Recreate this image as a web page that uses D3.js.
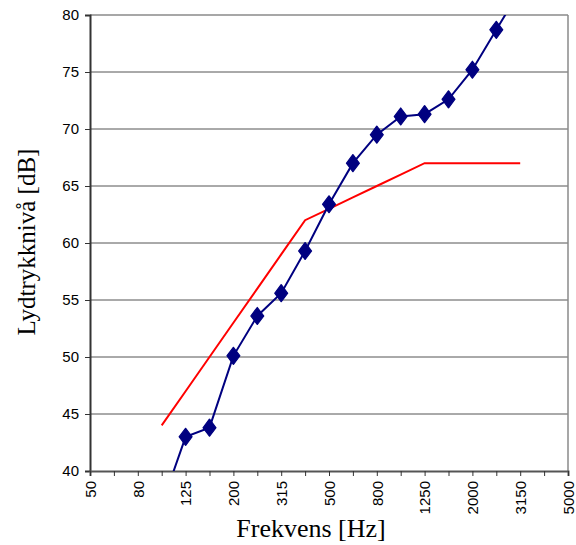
<!DOCTYPE html>
<html>
<head>
<meta charset="utf-8">
<script src="https://cdn.jsdelivr.net/npm/d3@7"></script>
<style>
  html, body { margin: 0; padding: 0; background: #fff; }
  svg { display: block; }
</style>
</head>
<body>
<svg id="chart" width="576" height="545"></svg>
<script>
const frequencies = ["50","63","80","100","125","160","200","250","315","400","500","630","800","1000","1250","1600","2000","2500","3150","4000","5000"];
const tickLabels = ["50","80","125","200","315","500","800","1250","2000","3150","5000"];
const measuredFreqs = ["100","125","160","200","250","315","400","500","630","800","1000","1250","1600","2000","2500","3150"];
const measuredValues = [37.0,43.0,43.8,50.1,53.6,55.6,59.3,63.4,67.0,69.5,71.1,71.3,72.6,75.2,78.7,82.2];
const referenceFreqs = ["100","125","160","200","250","315","400","500","630","800","1000","1250","1600","2000","2500","3150"];
const referenceValues = [44,47,50,53,56,59,62,63,64,65,66,67,67,67,67,67];
const yTicks = [40,45,50,55,60,65,70,75,80];

const svg = d3.select("#chart");
const m = {left: 90, right: 568, top: 15, bottom: 471};

const x = d3.scalePoint().domain(frequencies).range([m.left, m.right]);
const y = d3.scaleLinear().domain([40, 80]).range([m.bottom, m.top]);

svg.append("defs").append("clipPath").attr("id", "clip")
  .append("rect").attr("x", m.left).attr("y", m.top)
  .attr("width", m.right - m.left).attr("height", m.bottom - m.top);

// gridlines
svg.append("g").selectAll("line").data(yTicks.filter(d => d > 40)).join("line")
  .attr("x1", m.left).attr("x2", m.right)
  .attr("y1", d => y(d)).attr("y2", d => y(d))
  .attr("stroke", d => d === 80 ? "#8a8a8a" : "#555").attr("stroke-width", d => d === 80 ? 1.5 : 1);

// right border
svg.append("line").attr("x1", m.right).attr("x2", m.right).attr("y1", m.top).attr("y2", m.bottom)
  .attr("stroke", "#8a8a8a").attr("stroke-width", 1.5);

// y axis
const yAxis = d3.axisLeft(y).tickValues(yTicks).tickSize(5).tickPadding(6);
const gy = svg.append("g").attr("transform", `translate(${m.left},0)`).call(yAxis);
gy.select(".domain").attr("stroke", "#333").attr("stroke-width", 2);
gy.selectAll(".tick line").attr("stroke", "#333");
gy.selectAll("text").attr("font-family", "Liberation Sans, Arial, sans-serif").attr("font-size", 15).attr("fill", "#000");

// x axis
const xAxis = d3.axisBottom(x).tickSize(5).tickPadding(10)
  .tickFormat(d => tickLabels.includes(d) ? d : "");
const gx = svg.append("g").attr("transform", `translate(0,${m.bottom})`).call(xAxis);
gx.select(".domain").attr("stroke", "#555").attr("stroke-width", 2);
gx.selectAll(".tick line").attr("stroke", "#333");
gx.selectAll("text")
  .attr("font-family", "Liberation Sans, Arial, sans-serif").attr("font-size", 15).attr("fill", "#000")
  .attr("transform", "rotate(-90)")
  .attr("text-anchor", "end")
  .attr("dy", "0.35em")
  .attr("x", -10).attr("y", 0);

const plot = svg.append("g").attr("clip-path", "url(#clip)");

const line = d3.line().x(d => x(d[0])).y(d => y(d[1]));

const refData = referenceFreqs.map((f, i) => [f, referenceValues[i]]);
plot.append("path").datum(refData).attr("d", line)
  .attr("fill", "none").attr("stroke", "#ff0000").attr("stroke-width", 2);

const measData = measuredFreqs.map((f, i) => [f, measuredValues[i]]);
plot.append("path").datum(measData).attr("d", line)
  .attr("fill", "none").attr("stroke", "#000080").attr("stroke-width", 2);

const sym = d3.symbol().type(d3.symbolDiamond).size(85);
plot.selectAll(".mk").data(measData.filter(d => d[1] >= 40 && d[1] <= 80)).join("path")
  .attr("class", "mk")
  .attr("d", sym)
  .attr("transform", d => `translate(${x(d[0])},${y(d[1])}) scale(1.3,1)`)
  .attr("fill", "#000080")
  .attr("stroke", "#000080").attr("stroke-width", 1).attr("stroke-linejoin", "round");

// titles
svg.append("text").attr("x", 311).attr("y", 537).attr("text-anchor", "middle")
  .attr("font-family", "Liberation Serif, Times New Roman, serif").attr("font-size", 26)
  .text("Frekvens [Hz]");
svg.append("text").attr("transform", "translate(35,242) rotate(-90)").attr("text-anchor", "middle")
  .attr("font-family", "Liberation Serif, Times New Roman, serif").attr("font-size", 25)
  .text("Lydtrykknivå [dB]");
</script>
</body>
</html>
